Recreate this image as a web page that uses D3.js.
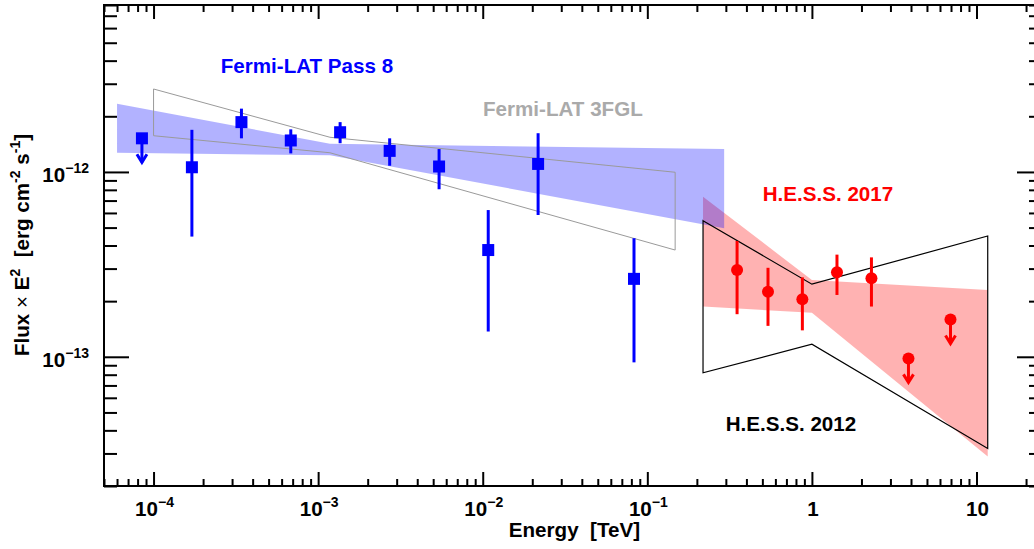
<!DOCTYPE html>
<html><head><meta charset="utf-8">
<script src="https://cdn.jsdelivr.net/npm/d3@7"></script>
<style>
html,body{margin:0;padding:0;background:#fff;}
text{font-family:"Liberation Sans",Arial,Helvetica,sans-serif;font-weight:bold;}
</style>
</head><body>
<svg id="chart" width="1034" height="549"></svg>
<script>
// ---- Data (Energy in TeV, Flux x E^2 in erg cm^-2 s^-1) ----
const fermiE    = [1.71e-4, 3.42e-4, 6.82e-4, 1.36e-3, 2.72e-3, 5.43e-3, 1.08e-2, 2.17e-2, 8.3e-2];
const fermiF    = [1.06e-12, 1.86e-12, 1.48e-12, 1.64e-12, 1.30e-12, 1.07e-12, 3.78e-13, 1.105e-12, 2.64e-13];
const fermiLo   = [4.47e-13, 1.52e-12, 1.26e-12, 1.43e-12, 1.08e-12, 8.06e-13, 1.37e-13, 5.85e-13, 9.33e-14];
const fermiHi   = [1.69e-12, 2.20e-12, 1.70e-12, 1.86e-12, 1.52e-12, 1.33e-12, 6.22e-13, 1.62e-12, 4.38e-13];
const fermiUlE  = [8.5e-5];
const fermiUlF  = [1.52e-12];

const hessE     = [0.351, 0.541, 0.875, 1.42, 2.30];
const hessF     = [2.95e-13, 2.25e-13, 2.05e-13, 2.87e-13, 2.66e-13];
const hessLo    = [1.70e-13, 1.47e-13, 1.39e-13, 2.16e-13, 1.87e-13];
const hessHi    = [4.23e-13, 3.03e-13, 2.69e-13, 3.57e-13, 3.45e-13];
const hessUlE   = [3.86, 6.95];
const hessUlF   = [9.8e-14, 1.59e-13];

// butterflies: energies, upper edge, lower edge
const fermiBandE  = [6e-5, 1.18e-3, 0.293];
const fermiBandUp = [2.34e-12, 1.42e-12, 1.33e-12];
const fermiBandLo = [1.27e-12, 1.23e-12, 4.96e-13];

const fglBandE  = [1e-4, 1.18e-3, 0.1476];
const fglBandUp = [2.81e-12, 1.54e-12, 9.96e-13];
const fglBandLo = [1.57e-12, 1.27e-12, 3.78e-13];

const hess12E  = [0.218, 1.0, 11.7];
const hess12Up = [5.45e-13, 2.47e-13, 4.50e-13];
const hess12Lo = [8.19e-14, 1.17e-13, 3.19e-14];

const hess17E  = [0.218, 1.0, 11.7];
const hess17Up = [7.35e-13, 2.60e-13, 2.30e-13];
const hess17Lo = [1.87e-13, 1.73e-13, 2.89e-14];

// ticks
const xMajorTicks = [1e-4, 1e-3, 1e-2, 1e-1, 1, 10];
const xTickLabels = [["10","\u22124"],["10","\u22123"],["10","\u22122"],["10","\u22121"],["1",""],["10",""]];
const yMajorTicks = [1e-13, 1e-12];
const yTickLabels = [["10","\u221213"],["10","\u221212"]];

// ---- Layout ----
const svg = d3.select("#chart");
const L = 104, R = 1042, T = 5, B = 486;
const x = d3.scaleLog().domain([5e-5, 25]).range([L, R]);
const y = d3.scaleLog().domain([2e-14, 8e-12]).range([B, T]);

function minors(scale, majorsExp0, majorsExp1) {
  const out = [];
  const [d0, d1] = scale.domain();
  for (let e = majorsExp0; e <= majorsExp1; e++) {
    for (let m = 2; m <= 9; m++) {
      const v = m * Math.pow(10, e);
      if (v >= d0 * 0.999 && v <= d1 * 1.001) out.push(v);
    }
  }
  return out;
}
const xMinor = minors(x, -5, 1);
const yMinor = minors(y, -14, -12);

const bandPts = (E, up, lo) => E.map((e, i) => [x(e), y(up[i])]).concat(E.slice().reverse().map((e, j) => [x(e), y(lo[E.length - 1 - j])]));
const line = d3.line();

// bands (fills)
svg.append("path").attr("d", line(bandPts(hess17E, hess17Up, hess17Lo)) + "Z")
  .attr("fill", "rgba(255,0,0,0.3)").attr("stroke", "none");
svg.append("path").attr("d", line(bandPts(fermiBandE, fermiBandUp, fermiBandLo)) + "Z")
  .attr("fill", "rgba(0,0,255,0.3)").attr("stroke", "none");

// outline butterflies
svg.append("path").attr("d", line(bandPts(fglBandE, fglBandUp, fglBandLo)) + "Z")
  .attr("fill", "none").attr("stroke", "#9a9a9a").attr("stroke-width", 1);
svg.append("path").attr("d", line(bandPts(hess12E, hess12Up, hess12Lo)) + "Z")
  .attr("fill", "none").attr("stroke", "#000").attr("stroke-width", 1.2);

// error bars
function errBars(E, lo, hi, col) {
  svg.append("g").selectAll("line").data(E).join("line")
    .attr("x1", d => x(d)).attr("x2", d => x(d))
    .attr("y1", (d, i) => y(lo[i])).attr("y2", (d, i) => y(hi[i]))
    .attr("stroke", col).attr("stroke-width", 3);
}
errBars(fermiE, fermiLo, fermiHi, "#0000ff");
errBars(hessE, hessLo, hessHi, "#ff0000");

// upper-limit arrows
function arrows(E, F, col) {
  const g = svg.append("g").attr("stroke", col).attr("stroke-width", 3).attr("fill", "none");
  E.forEach((e, i) => {
    const cx = x(e), cy = y(F[i]), ye = cy + 24;
    g.append("line").attr("x1", cx).attr("x2", cx).attr("y1", cy).attr("y2", ye);
    g.append("path").attr("d", `M${cx - 5},${ye - 8}L${cx},${ye}L${cx + 5},${ye - 8}`);
  });
}
arrows(fermiUlE, fermiUlF, "#0000ff");
arrows(hessUlE, hessUlF, "#ff0000");

// markers
const sq = 12;
svg.append("g").selectAll("rect").data(fermiE.map((e, i) => [e, fermiF[i]]).concat(fermiUlE.map((e, i) => [e, fermiUlF[i]])))
  .join("rect")
  .attr("x", d => x(d[0]) - sq / 2).attr("y", d => y(d[1]) - sq / 2)
  .attr("width", sq).attr("height", sq).attr("fill", "#0000ff");
svg.append("g").selectAll("circle").data(hessE.map((e, i) => [e, hessF[i]]).concat(hessUlE.map((e, i) => [e, hessUlF[i]])))
  .join("circle")
  .attr("cx", d => x(d[0])).attr("cy", d => y(d[1])).attr("r", 6).attr("fill", "#ff0000");

// ---- Axes ----
const axStyle = g => { g.select(".domain").remove(); g.selectAll(".tick line").attr("stroke", "#000").attr("stroke-width", 2); g.selectAll(".tick text").remove(); };
svg.append("g").attr("transform", `translate(0,${B})`).call(d3.axisBottom(x).tickValues(xMajorTicks).tickSize(-14).tickFormat("")).call(axStyle);
svg.append("g").attr("transform", `translate(0,${B})`).call(d3.axisBottom(x).tickValues(xMinor).tickSize(-7).tickFormat("")).call(axStyle);
svg.append("g").attr("transform", `translate(0,${T})`).call(d3.axisTop(x).tickValues(xMajorTicks).tickSize(-14).tickFormat("")).call(axStyle);
svg.append("g").attr("transform", `translate(0,${T})`).call(d3.axisTop(x).tickValues(xMinor).tickSize(-7).tickFormat("")).call(axStyle);
svg.append("g").attr("transform", `translate(${L},0)`).call(d3.axisLeft(y).tickValues(yMajorTicks).tickSize(-25).tickFormat("")).call(axStyle);
svg.append("g").attr("transform", `translate(${L},0)`).call(d3.axisLeft(y).tickValues(yMinor).tickSize(-13).tickFormat("")).call(axStyle);
svg.append("g").attr("transform", `translate(${R},0)`).call(d3.axisRight(y).tickValues(yMajorTicks).tickSize(-25).tickFormat("")).call(axStyle);
svg.append("g").attr("transform", `translate(${R},0)`).call(d3.axisRight(y).tickValues(yMinor).tickSize(-13).tickFormat("")).call(axStyle);

svg.append("rect").attr("x", L).attr("y", T).attr("width", R - L).attr("height", B - T)
  .attr("fill", "none").attr("stroke", "#000").attr("stroke-width", 2);

// tick labels
function expLabel(g, lab, xx, yy, anchor) {
  const t = g.append("text").attr("x", xx).attr("y", yy).attr("text-anchor", anchor).attr("font-size", 20.6).attr("fill", "#000");
  t.append("tspan").text(lab[0]);
  if (lab[1]) t.append("tspan").attr("dy", -9.5).attr("font-size", 14).text(lab[1]);
}
const gl = svg.append("g");
xMajorTicks.forEach((v, i) => expLabel(gl, xTickLabels[i], x(v) + 1, 516, "middle"));
yMajorTicks.forEach((v, i) => expLabel(gl, yTickLabels[i], 89, y(v) + 10.5, "end"));

// axis titles
svg.append("text").attr("x", 640).attr("y", 536.5).attr("text-anchor", "end").attr("font-size", 20.6)
  .style("white-space", "pre").text("Energy  [TeV]");
const yt = svg.append("text").attr("transform", "translate(29,245) rotate(-90)").attr("text-anchor", "middle")
  .attr("font-size", 20.6).style("white-space", "pre");
yt.append("tspan").text("Flux ");
yt.append("tspan").attr("font-weight", "normal").text("\u00d7");
yt.append("tspan").text(" E");
yt.append("tspan").attr("dy", -9).attr("font-size", 14).text("2");
yt.append("tspan").attr("dy", 9).text("  [erg cm");
yt.append("tspan").attr("dy", -9).attr("font-size", 14).text("-2");
yt.append("tspan").attr("dy", 9).text(" s");
yt.append("tspan").attr("dy", -9).attr("font-size", 14).text("-1");
yt.append("tspan").attr("dy", 9).text("]");

// series labels
const labels = [
  {t: "Fermi-LAT Pass 8", x: 220.7, y: 72.7, c: "#0000ff"},
  {t: "Fermi-LAT 3FGL", x: 483, y: 115.7, c: "#aaaaaa"},
  {t: "H.E.S.S. 2017", x: 762.7, y: 200.7, c: "#ff0000"},
  {t: "H.E.S.S. 2012", x: 725.7, y: 430.7, c: "#000000"}
];
labels.forEach(l => svg.append("text").attr("x", l.x).attr("y", l.y).attr("font-size", 20.6).attr("fill", l.c).text(l.t));
</script>
</body></html>
